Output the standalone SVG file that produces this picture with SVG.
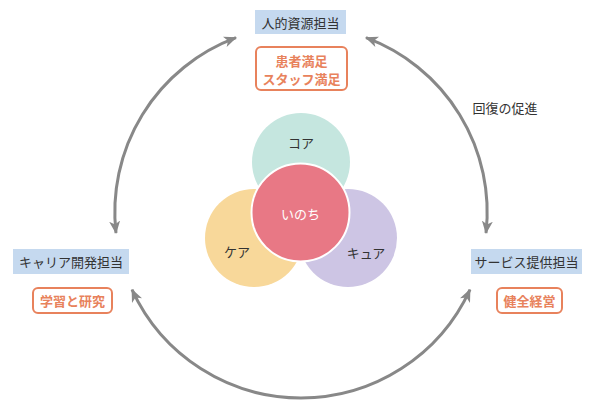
<svg xmlns="http://www.w3.org/2000/svg" width="600" height="411" viewBox="0 0 600 411">
<style>
text{font-family:"Noto Sans CJK JP","Noto Sans",sans-serif;font-size:13px;text-anchor:middle;dominant-baseline:central}
.role{fill:#c5d9ef}
.roleT{fill:#333}
.box{fill:#fff;stroke:#e8825c;stroke-width:2}
.boxT{fill:#e8825c;font-weight:bold}
.arc{fill:none;stroke:#888;stroke-width:3;marker-start:url(#ah);marker-end:url(#ah)}
.ct{fill:#333;font-size:13px}
</style>
<defs>
<marker id="ah" viewBox="0 0 13 11" refX="12" refY="5.5" markerWidth="13" markerHeight="11" markerUnits="userSpaceOnUse" orient="auto-start-reverse">
<path d="M0,0 L13,5.5 L0,11 L3.5,5.5 z" fill="#888"/>
</marker>
</defs>
<rect width="600" height="411" fill="#fff"/>
<g id="connectors">
<path class="arc" d="M116,233 A186,186 0 0 1 236,37.7"/>
<path class="arc" d="M366,37.7 A186,186 0 0 1 486,233"/>
<path class="arc" d="M470,289.7 A186,186 0 0 1 132,289.7"/>
<text x="505" y="107" class="ct">回復の促進</text>
</g>
<g id="core">
<circle cx="301" cy="162" r="49" fill="#c5e6df"/>
<circle cx="254" cy="238" r="49" fill="#f8d89a"/>
<circle cx="348" cy="238" r="49" fill="#cdc5e4"/>
<circle cx="300.5" cy="212.5" r="49" fill="#e87885" stroke="#fff" stroke-width="2"/>
<text x="301" y="142" class="ct">コア</text>
<text x="237" y="251" class="ct">ケア</text>
<text x="366" y="252" class="ct">キュア</text>
<text x="300.5" y="213" style="fill:#fff">いのち</text>
</g>
<g id="hr">
<rect class="role" x="255" y="10" width="91" height="24"/>
<text class="roleT" x="300.5" y="22">人的資源担当</text>
<rect class="box" x="256" y="47" width="91" height="43" rx="5"/>
<text class="boxT" x="301.5" y="60">患者満足</text>
<text class="boxT" x="301.5" y="78">スタッフ満足</text>
</g>
<g id="career">
<rect class="role" x="13" y="249" width="116" height="25"/>
<text class="roleT" x="71" y="261.5">キャリア開発担当</text>
<rect class="box" x="33" y="288" width="79" height="25" rx="5"/>
<text class="boxT" x="72.5" y="300.5">学習と研究</text>
</g>
<g id="service">
<rect class="role" x="471" y="249" width="111" height="25"/>
<text class="roleT" x="526.5" y="261.5">サービス提供担当</text>
<rect class="box" x="497" y="288" width="65" height="25" rx="5"/>
<text class="boxT" x="529.5" y="300.5">健全経営</text>
</g>
</svg>
